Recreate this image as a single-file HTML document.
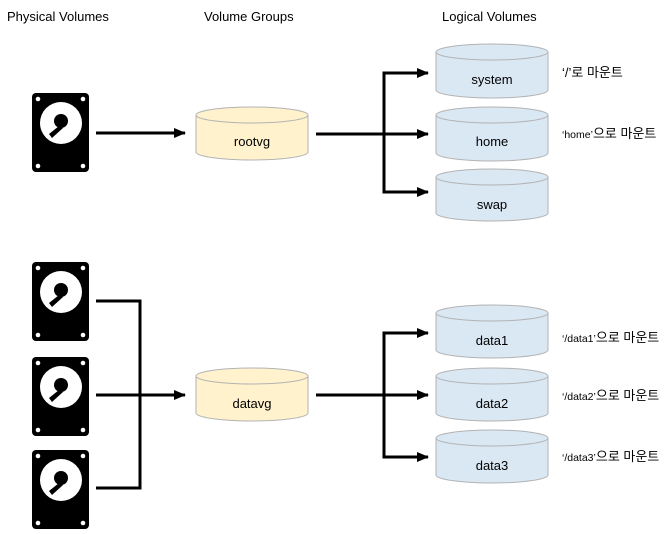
<!DOCTYPE html>
<html><head><meta charset="utf-8"><style>
html,body{margin:0;padding:0;background:#fff;}
svg{display:block;font-family:"Liberation Sans","Noto Sans CJK KR",sans-serif;}
</style></head><body>
<svg width="668" height="534" viewBox="0 0 668 534" xmlns="http://www.w3.org/2000/svg">
<defs>
<g id="disk">
<rect x="0" y="0" width="57" height="79" rx="4" fill="#000"/>
<circle cx="6" cy="6" r="2.3" fill="#fff"/><circle cx="51" cy="6" r="2.3" fill="#fff"/>
<circle cx="6" cy="73" r="2.3" fill="#fff"/><circle cx="51" cy="73" r="2.3" fill="#fff"/>
<circle cx="29" cy="30" r="21" fill="#fff"/>
<circle cx="29" cy="28" r="7" fill="#000"/>
<path d="M27 33 L17 41 L20 45 L31 35 Z" fill="#000"/>
</g>
<marker id="ah" markerWidth="14" markerHeight="12" refX="11" refY="6" orient="auto" markerUnits="userSpaceOnUse">
<path d="M0 1 L12 6 L0 11 Z" fill="#000"/></marker>
</defs>

<g font-size="13" fill="#000">
<text x="7" y="21">Physical Volumes</text>
<text x="204" y="21">Volume Groups</text>
<text x="442" y="21">Logical Volumes</text>
</g>

<use href="#disk" x="32" y="93"/>
<use href="#disk" x="32" y="262"/>
<use href="#disk" x="32" y="357"/>
<use href="#disk" x="32" y="450"/>

<g stroke="#000" stroke-width="3" fill="none">
<line x1="96" y1="133" x2="185" y2="133" marker-end="url(#ah)"/>
<polyline points="96,301 140,301 140,488 96,488"/>
<line x1="96" y1="395" x2="185" y2="395" marker-end="url(#ah)"/>
<line x1="316" y1="134" x2="384" y2="134"/>
<polyline points="427,73 384,73 384,192 427,192"/>
<line x1="384" y1="73" x2="428" y2="73" marker-end="url(#ah)"/>
<line x1="384" y1="134" x2="428" y2="134" marker-end="url(#ah)"/>
<line x1="384" y1="192" x2="428" y2="192" marker-end="url(#ah)"/>
<line x1="316" y1="395" x2="384" y2="395"/>
<polyline points="427,333 384,333 384,457 427,457"/>
<line x1="384" y1="333" x2="428" y2="333" marker-end="url(#ah)"/>
<line x1="384" y1="395" x2="428" y2="395" marker-end="url(#ah)"/>
<line x1="384" y1="457" x2="428" y2="457" marker-end="url(#ah)"/>
</g>

<g stroke="#b3b3b3" stroke-width="1">
<g fill="#fff2cc">
<path d="M196 115 v37 a56 8 0 0 0 112 0 v-37"/><ellipse cx="252" cy="115" rx="56" ry="8"/>
<path d="M196 376 v37 a56 8 0 0 0 112 0 v-37"/><ellipse cx="252" cy="376" rx="56" ry="8"/>
</g>
<g fill="#dae8f4">
<path d="M436 52 v38 a56 8 0 0 0 112 0 v-38"/><ellipse cx="492" cy="52" rx="56" ry="8"/>
<path d="M436 115 v38 a56 8 0 0 0 112 0 v-38"/><ellipse cx="492" cy="115" rx="56" ry="8"/>
<path d="M436 177 v36 a56 8 0 0 0 112 0 v-36"/><ellipse cx="492" cy="177" rx="56" ry="8"/>
<path d="M436 313 v37 a56 8 0 0 0 112 0 v-37"/><ellipse cx="492" cy="313" rx="56" ry="8"/>
<path d="M436 376 v37 a56 8 0 0 0 112 0 v-37"/><ellipse cx="492" cy="376" rx="56" ry="8"/>
<path d="M436 438 v37 a56 8 0 0 0 112 0 v-37"/><ellipse cx="492" cy="438" rx="56" ry="8"/>
</g>
</g>

<g font-size="13" fill="#000" text-anchor="middle">
<text x="252" y="146">rootvg</text>
<text x="252" y="408">datavg</text>
<text x="492" y="84">system</text>
<text x="492" y="146">home</text>
<text x="492" y="209">swap</text>
<text x="492" y="345">data1</text>
<text x="492" y="408">data2</text>
<text x="492" y="470">data3</text>
</g>
<g font-size="13" fill="#000">
<text x="562" y="77">‘/’로 마운트</text>
<text x="562" y="138"><tspan font-size="10.5">‘home’</tspan>으로 마운트</text>
<text x="562" y="342"><tspan font-size="10.5">‘/data1’</tspan>으로 마운트</text>
<text x="562" y="400"><tspan font-size="10.5">‘/data2’</tspan>으로 마운트</text>
<text x="562" y="461"><tspan font-size="10.5">‘/data3’</tspan>으로 마운트</text>
</g>
</svg>
</body></html>
